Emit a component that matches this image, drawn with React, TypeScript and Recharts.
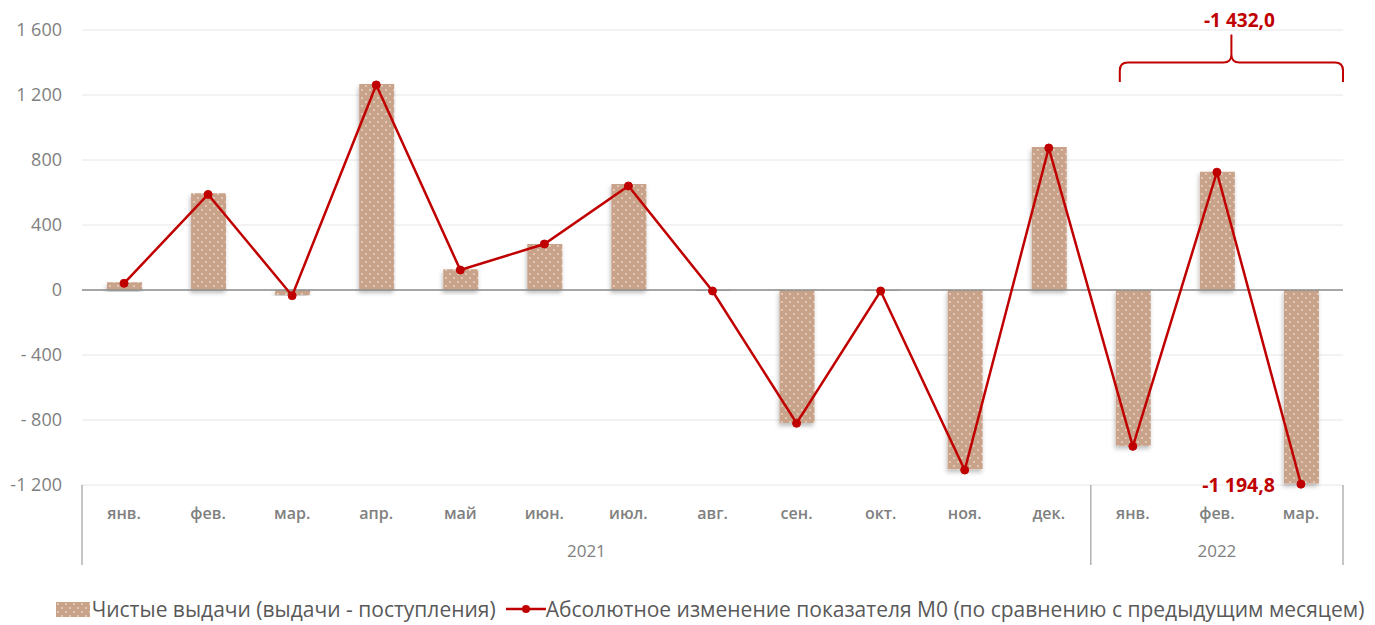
import {
  ComposedChart,
  Bar,
  Line,
  XAxis,
  YAxis,
  CartesianGrid,
  ReferenceLine,
  ReferenceArea,
  Legend,
  LabelList
} from "recharts";

const months = ["янв.", "фев.", "мар.", "апр.", "май", "июн.", "июл.", "авг.", "сен.", "окт.", "ноя.", "дек.", "янв.", "фев.", "мар."];
const years = [2021, 2021, 2021, 2021, 2021, 2021, 2021, 2021, 2021, 2021, 2021, 2021, 2022, 2022, 2022];
const netIssuance = [48, 595, -30, 1268, 127, 283, 652, -5, -818, -5, -1103, 880, -958, 728, -1190];
const m0Change = [41, 588, -35, 1262, 123, 283, 640, -6, -820, -6, -1108, 874, -962.2, 725.0, -1194.8];
const yTicks = [-1200, -800, -400, 0, 400, 800, 1200, 1600];

const BAR_NAME = "Чистые выдачи (выдачи - поступления)";
const LINE_NAME = "Абсолютное изменение показателя М0 (по сравнению с предыдущим месяцем)";

const RED = "#c00000";
const GREY = "#808080";
const FONT = "'Open Sans', sans-serif";

const data = months.map((m, i) => ({
  key: `${years[i]}-${i}`,
  month: m,
  year: years[i],
  net: netIssuance[i],
  m0: m0Change[i]
}));

// 1 432,0 style
function fmtNum(v: number, digits = 0) {
  const sign = v < 0 ? "-" : "";
  const [int, frac] = Math.abs(v).toFixed(digits).split(".");
  const grouped = int.replace(/\B(?=(\d{3})+(?!\d))/g, " ");
  return sign + grouped + (frac ? "," + frac : "");
}

function fmtY(v: number) {
  if (v < 0 && Math.abs(v) < 1000) return "- " + fmtNum(Math.abs(v));
  return fmtNum(v);
}

const lastYear = years[years.length - 1];
const lastYearKeys = data.filter((d) => d.year === lastYear).map((d) => d.key);
const lastYearTotal = data.filter((d) => d.year === lastYear).reduce((s, d) => s + d.m0, 0);

function MonthTick(props: any) {
  const { x, y, payload } = props;
  const i = payload.index;
  const half = payload.offset || 0;
  const d = data[i];
  const els: any[] = [];
  const isFirst = i === 0 || data[i - 1].year !== d.year;
  const isLast = i === data.length - 1;
  if (isFirst) els.push(<line key="l" x1={x - half} x2={x - half} y1={y} y2={y + 80} stroke="#a6a6a6" strokeWidth={1.3} />);
  if (isLast) els.push(<line key="r" x1={x + half} x2={x + half} y1={y} y2={y + 80} stroke="#a6a6a6" strokeWidth={1.3} />);
  const group = data.map((g, k) => (g.year === d.year ? k : -1)).filter((k) => k >= 0);
  const mid = (group[0] + group[group.length - 1]) / 2;
  if (Math.floor(mid) === i) {
    els.push(
      <text key="y" x={x + (mid - i) * 2 * half} y={y + 72} textAnchor="middle" fill={GREY} fontSize={17} fontFamily={FONT}>
        {d.year}
      </text>
    );
  }
  return (
    <g>
      <text x={x} y={y + 34} textAnchor="middle" fill={GREY} fontSize={16} fontWeight={600} fontFamily={FONT}>
        {d.month}
      </text>
      {els}
    </g>
  );
}

function Brace(props: any) {
  const { x, y, width, height } = props;
  const left = x + width * 0.115;
  const right = x + width;
  const mid = (left + right) / 2;
  const top = y;
  const bot = y + height;
  const r = 8;
  const path = `M${left},${bot} L${left},${top + r} Q${left},${top} ${left + r},${top} L${mid - r},${top} Q${mid},${top} ${mid},${top - r} L${mid},${top - 28} M${mid},${top - r} Q${mid},${top} ${mid + r},${top} L${right - r},${top} Q${right},${top} ${right},${top + r} L${right},${bot}`;
  return (
    <g>
      <path d={path} fill="none" stroke={RED} strokeWidth={2} />
      <text x={mid + 8} y={top - 36} textAnchor="middle" fill={RED} fontSize={19} fontWeight={700} fontFamily={FONT}>
        {fmtNum(lastYearTotal, 1)}
      </text>
    </g>
  );
}

function LastLabel(props: any) {
  const { x, y, index, value } = props;
  if (index !== data.length - 1) return null;
  return (
    <text x={x - 26} y={y + 8} textAnchor="end" fill={RED} fontSize={19.5} fontWeight={700} fontFamily={FONT}>
      {fmtNum(value, 1)}
    </text>
  );
}

function LegendContent() {
  return (
    <div
      style={{
        width: 1420,
        display: "flex",
        justifyContent: "center",
        alignItems: "center",
        whiteSpace: "nowrap",
        fontFamily: FONT,
        fontSize: 21,
        color: "#595959",
        paddingTop: 10
      }}
    >
      <svg width={34} height={15} style={{ marginRight: 2, flexShrink: 0 }}>
        <rect width={34} height={15} fill="url(#dots)" />
      </svg>
      <span style={{ marginRight: 10 }}>{BAR_NAME}</span>
      <svg width={40} height={16} style={{ flexShrink: 0 }}>
        <line x1={0} x2={40} y1={8} y2={8} stroke={RED} strokeWidth={2.5} />
        <circle cx={20} cy={8} r={4} fill={RED} />
      </svg>
      <span>{LINE_NAME}</span>
    </div>
  );
}

export default function App() {
  return (
    <div style={{ position: "absolute", left: 0, top: 0, width: 1375, height: 625, background: "#fff", overflow: "hidden" }}>
      <svg width={0} height={0} style={{ position: "absolute" }}>
        <defs>
          <pattern id="dots" width={8} height={8} patternUnits="userSpaceOnUse">
            <rect width={8} height={8} fill="#c9a28a" />
            <circle cx={2} cy={2} r={0.8} fill="#fff" fillOpacity={0.9} />
            <circle cx={6} cy={6} r={0.8} fill="#fff" fillOpacity={0.9} />
          </pattern>
          <filter id="shadow" x="-20%" y="-20%" width="140%" height="140%">
            <feDropShadow dx={-1} dy={3} stdDeviation={2} floodColor="#000" floodOpacity={0.25} />
          </filter>
        </defs>
      </svg>
      <ComposedChart width={1375} height={625} data={data} margin={{ top: 30, right: 32, left: 0, bottom: 0 }}>
        <CartesianGrid vertical={false} stroke="#e6e6e6" />
        <XAxis dataKey="key" axisLine={false} tickLine={false} tickSize={0} tickMargin={0} height={100} interval={0} tick={<MonthTick />} />
        <YAxis
          domain={[-1200, 1600]}
          ticks={yTicks}
          tickFormatter={fmtY}
          axisLine={false}
          tickLine={false}
          tickSize={0}
          tickMargin={20}
          width={82}
          tick={{ fill: GREY, fontSize: 18, fontFamily: FONT }}
        />
        <ReferenceLine y={0} stroke="#8c8c8c" strokeWidth={1.3} />
        <Bar dataKey="net" name={BAR_NAME} fill="url(#dots)" barSize={35} isAnimationActive={false} style={{ filter: "url(#shadow)" }} />
        <Line
          dataKey="m0"
          name={LINE_NAME}
          stroke={RED}
          strokeWidth={2.5}
          dot={{ r: 4, fill: RED, stroke: RED, strokeWidth: 1 }}
          activeDot={false}
          isAnimationActive={false}
        >
          <LabelList dataKey="m0" content={<LastLabel />} />
        </Line>
        <ReferenceArea
          x1={lastYearKeys[0]}
          x2={lastYearKeys[lastYearKeys.length - 1]}
          y1={1280}
          y2={1400}
          ifOverflow="visible"
          shape={<Brace />}
        />
        <Legend verticalAlign="bottom" height={40} content={<LegendContent />} />
      </ComposedChart>
    </div>
  );
}
